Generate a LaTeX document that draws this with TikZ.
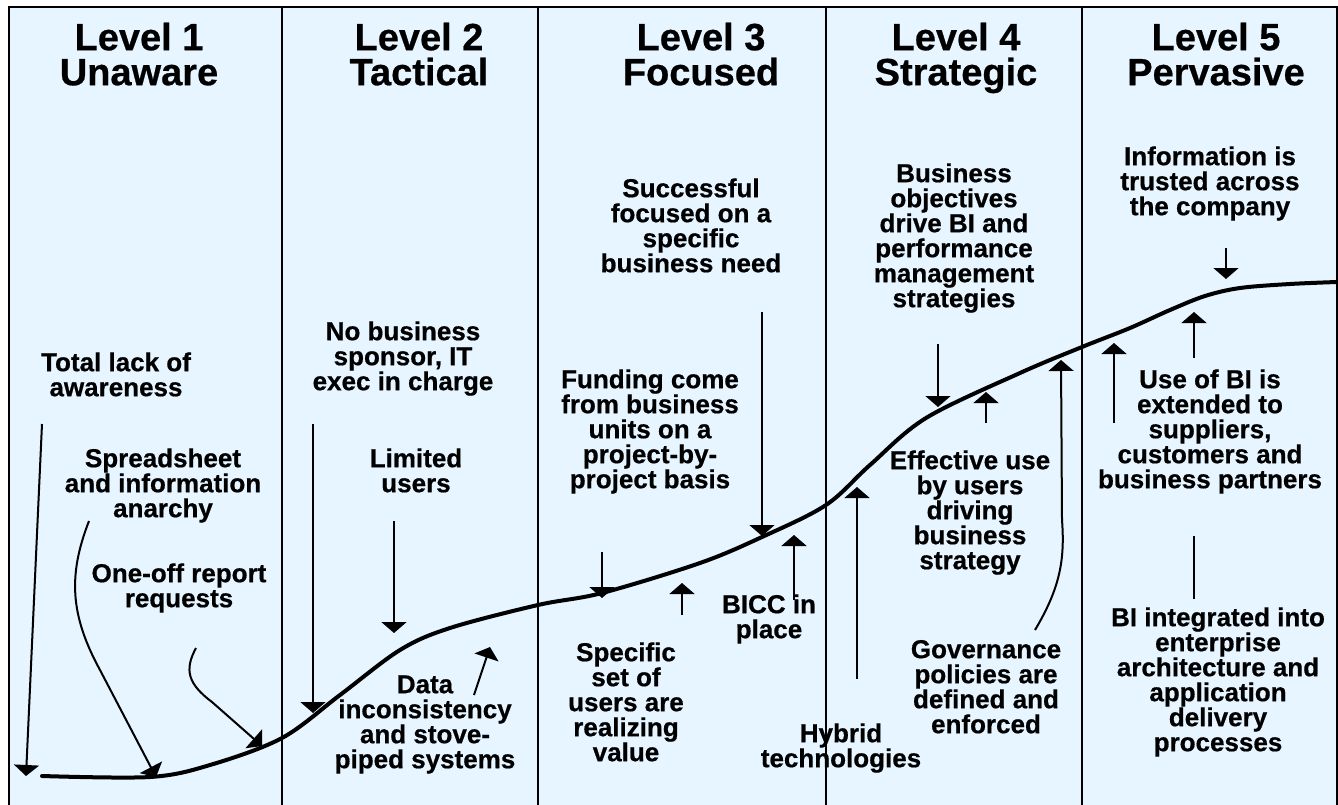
\documentclass[tikz,border=0pt]{standalone}
\usepackage{fontspec}
\setmainfont{Liberation Sans}[BoldFeatures={FakeBold=0.6}]
\usetikzlibrary{arrows.meta}
\definecolor{bgblue}{HTML}{E6F5FF}
\newcommand{\tightlines}{\lineskiplimit=-30pt\relax}
\begin{document}
\begin{tikzpicture}[x=1pt,y=-1pt,
  title/.style={font={\fontsize{38}{35}\selectfont\bfseries\tightlines}, align=center, anchor=north, inner sep=0pt},
  body/.style={font={\fontsize{26}{25}\selectfont\bfseries\tightlines}, align=center, anchor=north, inner sep=0pt},
  frameline/.style={line width=2pt, draw=black},
  arr/.style={line width=2pt, -{Triangle[width=25pt,length=11pt]}},
  plainline/.style={line width=2pt},
  curveline/.style={line width=4pt, line cap=round}]
\useasboundingbox (0,0) rectangle (1338,805);
\clip (0,0) rectangle (1338,805);
\fill[white] (0,0) rectangle (1338,805);
\draw[frameline, fill=bgblue] (9,7) rectangle (1337,830);
\foreach \xx in {282,538,826,1082} \draw[frameline] (\xx,7) -- (\xx,830);

% titles
\node[title] (t1) at (139,22) {\rule{0pt}{28pt}Level 1\\Unaware};
\node[title] (t2) at (419,22) {\rule{0pt}{28pt}Level 2\\Tactical};
\node[title] (t3) at (701,22) {\rule{0pt}{28pt}Level 3\\Focused};
\node[title] (t4) at (956,22) {\rule{0pt}{28pt}Level 4\\Strategic};
\node[title] (t5) at (1216,22) {\rule{0pt}{28pt}Level 5\\Pervasive};

% body texts
\node[body] (n1) at (116,352) {\rule{0pt}{19pt}Total lack of\\awareness};
\node[body] (n2) at (163,448) {\rule{0pt}{19pt}Spreadsheet\\and information\\anarchy};
\node[body] (n3) at (179,563) {\rule{0pt}{19pt}One-off report\\requests};
\node[body] (n4) at (403,321) {\rule{0pt}{19pt}No business\\sponsor, IT\\exec in charge};
\node[body] (n5) at (416,448) {\rule{0pt}{19pt}Limited\\users};
\node[body] (n6) at (425,674) {\rule{0pt}{19pt}Data\\inconsistency\\and stove-\\piped systems};
\node[body] (n7) at (691,178) {\rule{0pt}{19pt}Successful\\focused on a\\specific\\business need};
\node[body] (n8) at (650,369) {\rule{0pt}{19pt}Funding come\\from business\\units on a\\project-by-\\project basis};
\node[body] (n9) at (626,642) {\rule{0pt}{19pt}Specific\\set of\\users are\\realizing\\value};
\node[body] (n10) at (769,594) {\rule{0pt}{19pt}BICC in\\place};
\node[body] (n11) at (841,723) {\rule{0pt}{19pt}Hybrid\\technologies};
\node[body] (n12) at (954,163) {\rule{0pt}{19pt}Business\\objectives\\drive BI and\\performance\\management\\strategies};
\node[body] (n13) at (970,450) {\rule{0pt}{19pt}Effective use\\by users\\driving\\business\\strategy};
\node[body] (n14) at (986,639) {\rule{0pt}{19pt}Governance\\policies are\\defined and\\enforced};
\node[body] (n15) at (1210,146) {\rule{0pt}{19pt}Information is\\trusted across\\the company};
\node[body] (n16) at (1210,369) {\rule{0pt}{19pt}Use of BI is\\extended to\\suppliers,\\customers and\\business partners};
\node[body] (n17) at (1218,607) {\rule{0pt}{19pt}BI integrated into\\enterprise\\architecture and\\application\\delivery\\processes};

% maturity curve
\draw[curveline] plot[smooth, tension=0.55] coordinates {
  (42,776) (150,777) (210,765) (282,738) (340,695) (400,650) (450,628)
  (538,605) (602,593) (700,563) (762,537) (826,505) (870,465) (926,418)
  (1020,373) (1082,347) (1130,328) (1170,310) (1205,296) (1240,288)
  (1290,284) (1337,282)};

% arrow end points
\coordinate (a1s) at (42,424);   \coordinate (a1e) at (26,776);
\coordinate (a2s) at (89,521);   \coordinate (a2e) at (156,777);
\coordinate (a3s) at (196,648);  \coordinate (a3e) at (262,746);
\coordinate (a4s) at (313,424);  \coordinate (a4e) at (313,713);
\coordinate (a5s) at (394,521);  \coordinate (a5e) at (394,633);
\coordinate (a6s) at (474,695);  \coordinate (a6e) at (490,647);
\coordinate (a7s) at (762,312);  \coordinate (a7e) at (762,536);
\coordinate (a8s) at (602,552);  \coordinate (a8e) at (602,598);
\coordinate (a9s) at (682,615);  \coordinate (a9e) at (682,583);
\coordinate (a10s) at (794,600); \coordinate (a10e) at (794,535);
\coordinate (a11s) at (857,679); \coordinate (a11e) at (857,487);
\coordinate (a12s) at (938,344); \coordinate (a12e) at (938,407);
\coordinate (a13s) at (986,423); \coordinate (a13e) at (986,392);
\coordinate (a14s) at (1035,630); \coordinate (a14e) at (1061,360);
\coordinate (a15s) at (1226,248); \coordinate (a15e) at (1226,279);
\coordinate (a16s) at (1194,358); \coordinate (a16e) at (1194,312);
\coordinate (a17s) at (1114,423); \coordinate (a17e) at (1114,343);
\coordinate (l1s) at (1194,536); \coordinate (l1e) at (1194,599);

\draw[arr] (a1s) -- (a1e);
\draw[arr] (a2s) .. controls (68,575) and (70,615) .. (100,670) -- (a2e);
\draw[arr] (a3s) .. controls (184,670) and (188,684) .. (212,702) -- (a3e);
\draw[arr] (a4s) -- (a4e);
\draw[arr] (a5s) -- (a5e);
\draw[arr] (a6s) -- (a6e);
\draw[arr] (a7s) -- (a7e);
\draw[arr] (a8s) -- (a8e);
\draw[arr] (a9s) -- (a9e);
\draw[arr] (a10s) -- (a10e);
\draw[arr] (a11s) -- (a11e);
\draw[arr] (a12s) -- (a12e);
\draw[arr] (a13s) -- (a13e);
\draw[arr] (a14s) .. controls (1060,588) and (1065,560) .. (1062,520) -- (a14e);
\draw[arr] (a15s) -- (a15e);
\draw[arr] (a16s) -- (a16e);
\draw[arr] (a17s) -- (a17e);
\draw[plainline] (l1s) -- (l1e);
\end{tikzpicture}
\end{document}
